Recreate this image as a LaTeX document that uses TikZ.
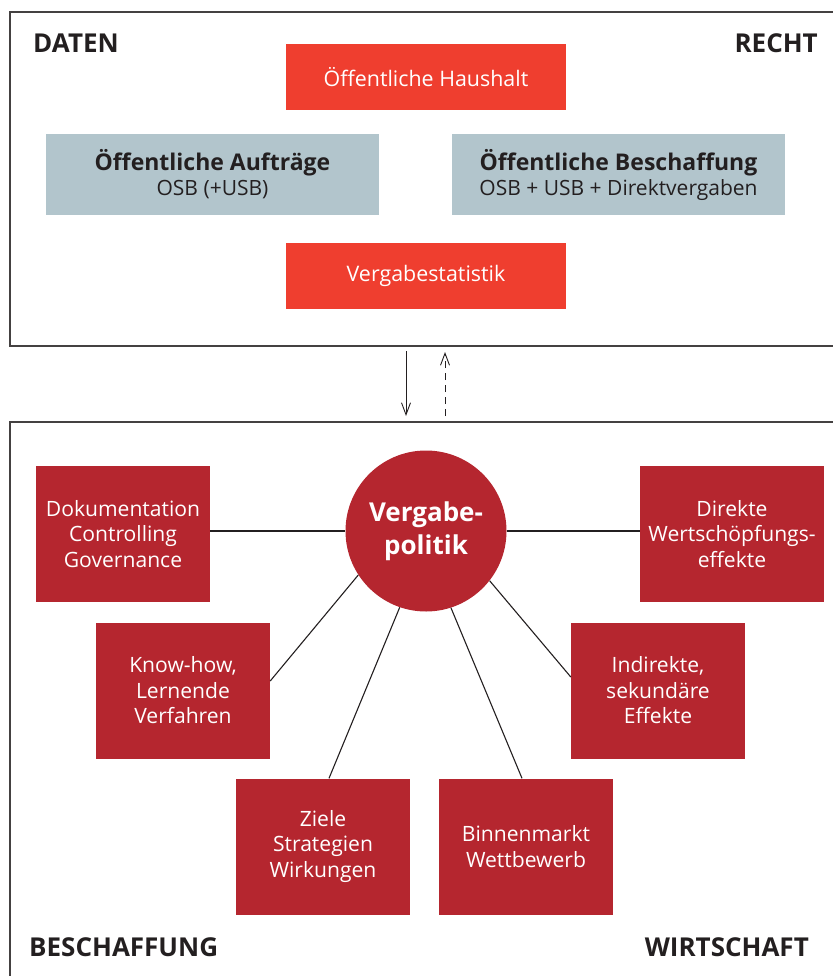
\documentclass[tikz,border=0pt]{standalone}
\usepackage{fontspec}
\setmainfont{Open Sans}
\usetikzlibrary{arrows.meta}
\definecolor{hellrot}{HTML}{EF3E2F}
\definecolor{dunkelrot}{HTML}{B5262F}
\definecolor{graublau}{HTML}{B2C5CC}
\definecolor{schrift}{HTML}{231F20}
\begin{document}
\begin{tikzpicture}[x=1pt,y=-1pt,
  frame/.style={draw=schrift!85, line width=1.4pt},
  titel/.style={text=schrift, font=\fontsize{26}{30}\selectfont\bfseries, inner sep=0},
  hbox/.style={fill=hellrot, text=white, inner sep=0, minimum width=280pt, minimum height=66pt, font=\fontsize{21.4}{25}\selectfont},
  gbox/.style={fill=graublau, text=schrift, inner sep=0, minimum width=333pt, minimum height=81pt, align=center, font=\fontsize{23}{25}\selectfont},
  rbox/.style={fill=dunkelrot, text=white, inner sep=0, minimum width=174pt, minimum height=136pt, align=center, font=\fontsize{21.1}{25.5}\selectfont},
  link/.style={draw=schrift, line width=1.1pt}]
\useasboundingbox (0,0) rectangle (832,976);
% oberer Rahmen
\draw[frame] (850,12) -| (10,346) -- (850,346);
\node[titel, anchor=base west] (daten) at (33,53) {DATEN};
\node[titel, anchor=base east] (recht) at (818,53) {RECHT};
\node[hbox] (haushalt) at (426,77) {Öffentliche Haushalt};
\node[gbox] (auftraege) at (212.5,174.5) {{\bfseries Öffentliche Aufträge}\\{\fontsize{21}{24}\selectfont OSB (+USB)}};
\node[gbox] (beschaffung) at (618.5,174.5) {{\bfseries Öffentliche Beschaffung}\\{\fontsize{21}{24}\selectfont OSB + USB + Direktvergaben}};
\node[hbox] (statistik) at (426,276) {Vergabestatistik};
% Pfeile
\coordinate (ab1) at (406,351);
\coordinate (ab2) at (406,416);
\coordinate (auf1) at (445,416);
\coordinate (auf2) at (445,352);
\draw[link, line width=0.9pt, -{Straight Barb[length=12pt,width=9pt]}] (ab1) -- (ab2);
\draw[link, line width=0.9pt, dash pattern=on 7pt off 5pt, -{Straight Barb[length=12pt,width=9pt]}] (auf1) -- (auf2);
% unterer Rahmen
\draw[frame] (10,990) |- (850,422);
\node[titel, anchor=base west] (beschaff) at (29,956) {BESCHAFFUNG};
\node[titel, anchor=base east] (wirtschaft) at (809,956) {WIRTSCHAFT};
\node[circle, fill=dunkelrot, text=white, minimum size=161pt, inner sep=0, align=center, font=\fontsize{26}{33}\selectfont\bfseries] (vp) at (426,531) {Vergabe-\\politik};
\node[rbox] (doku) at (123,534) {Dokumentation\\Controlling\\Governance};
\node[rbox, minimum width=184pt] (direkt) at (732,534) {Direkte\\Wertschöpfungs-\\effekte};
\node[rbox] (know) at (183,690.5) {Know-how,\\Lernende\\Verfahren};
\node[rbox] (indirekt) at (658,690.5) {Indirekte,\\sekundäre\\Effekte};
\node[rbox] (ziele) at (323,846.5) {Ziele\\Strategien\\Wirkungen};
\node[rbox] (binnen) at (526,846.5) {Binnenmarkt\\Wettbewerb};
\path[link] (doku.east |- vp.west) -- (vp.west);
\path[link] (vp.east) -- (direkt.west |- vp.east);
\path[link] (vp.213.5) -- ([yshift=9.5pt]know.east);
\path[link] (vp.251.3) -- ([xshift=6pt]ziele.north);
\path[link] (vp.322) -- ([yshift=13.5pt]indirekt.west);
\path[link] (vp.288.7) -- ([xshift=-4pt]binnen.north);
\end{tikzpicture}
\end{document}
